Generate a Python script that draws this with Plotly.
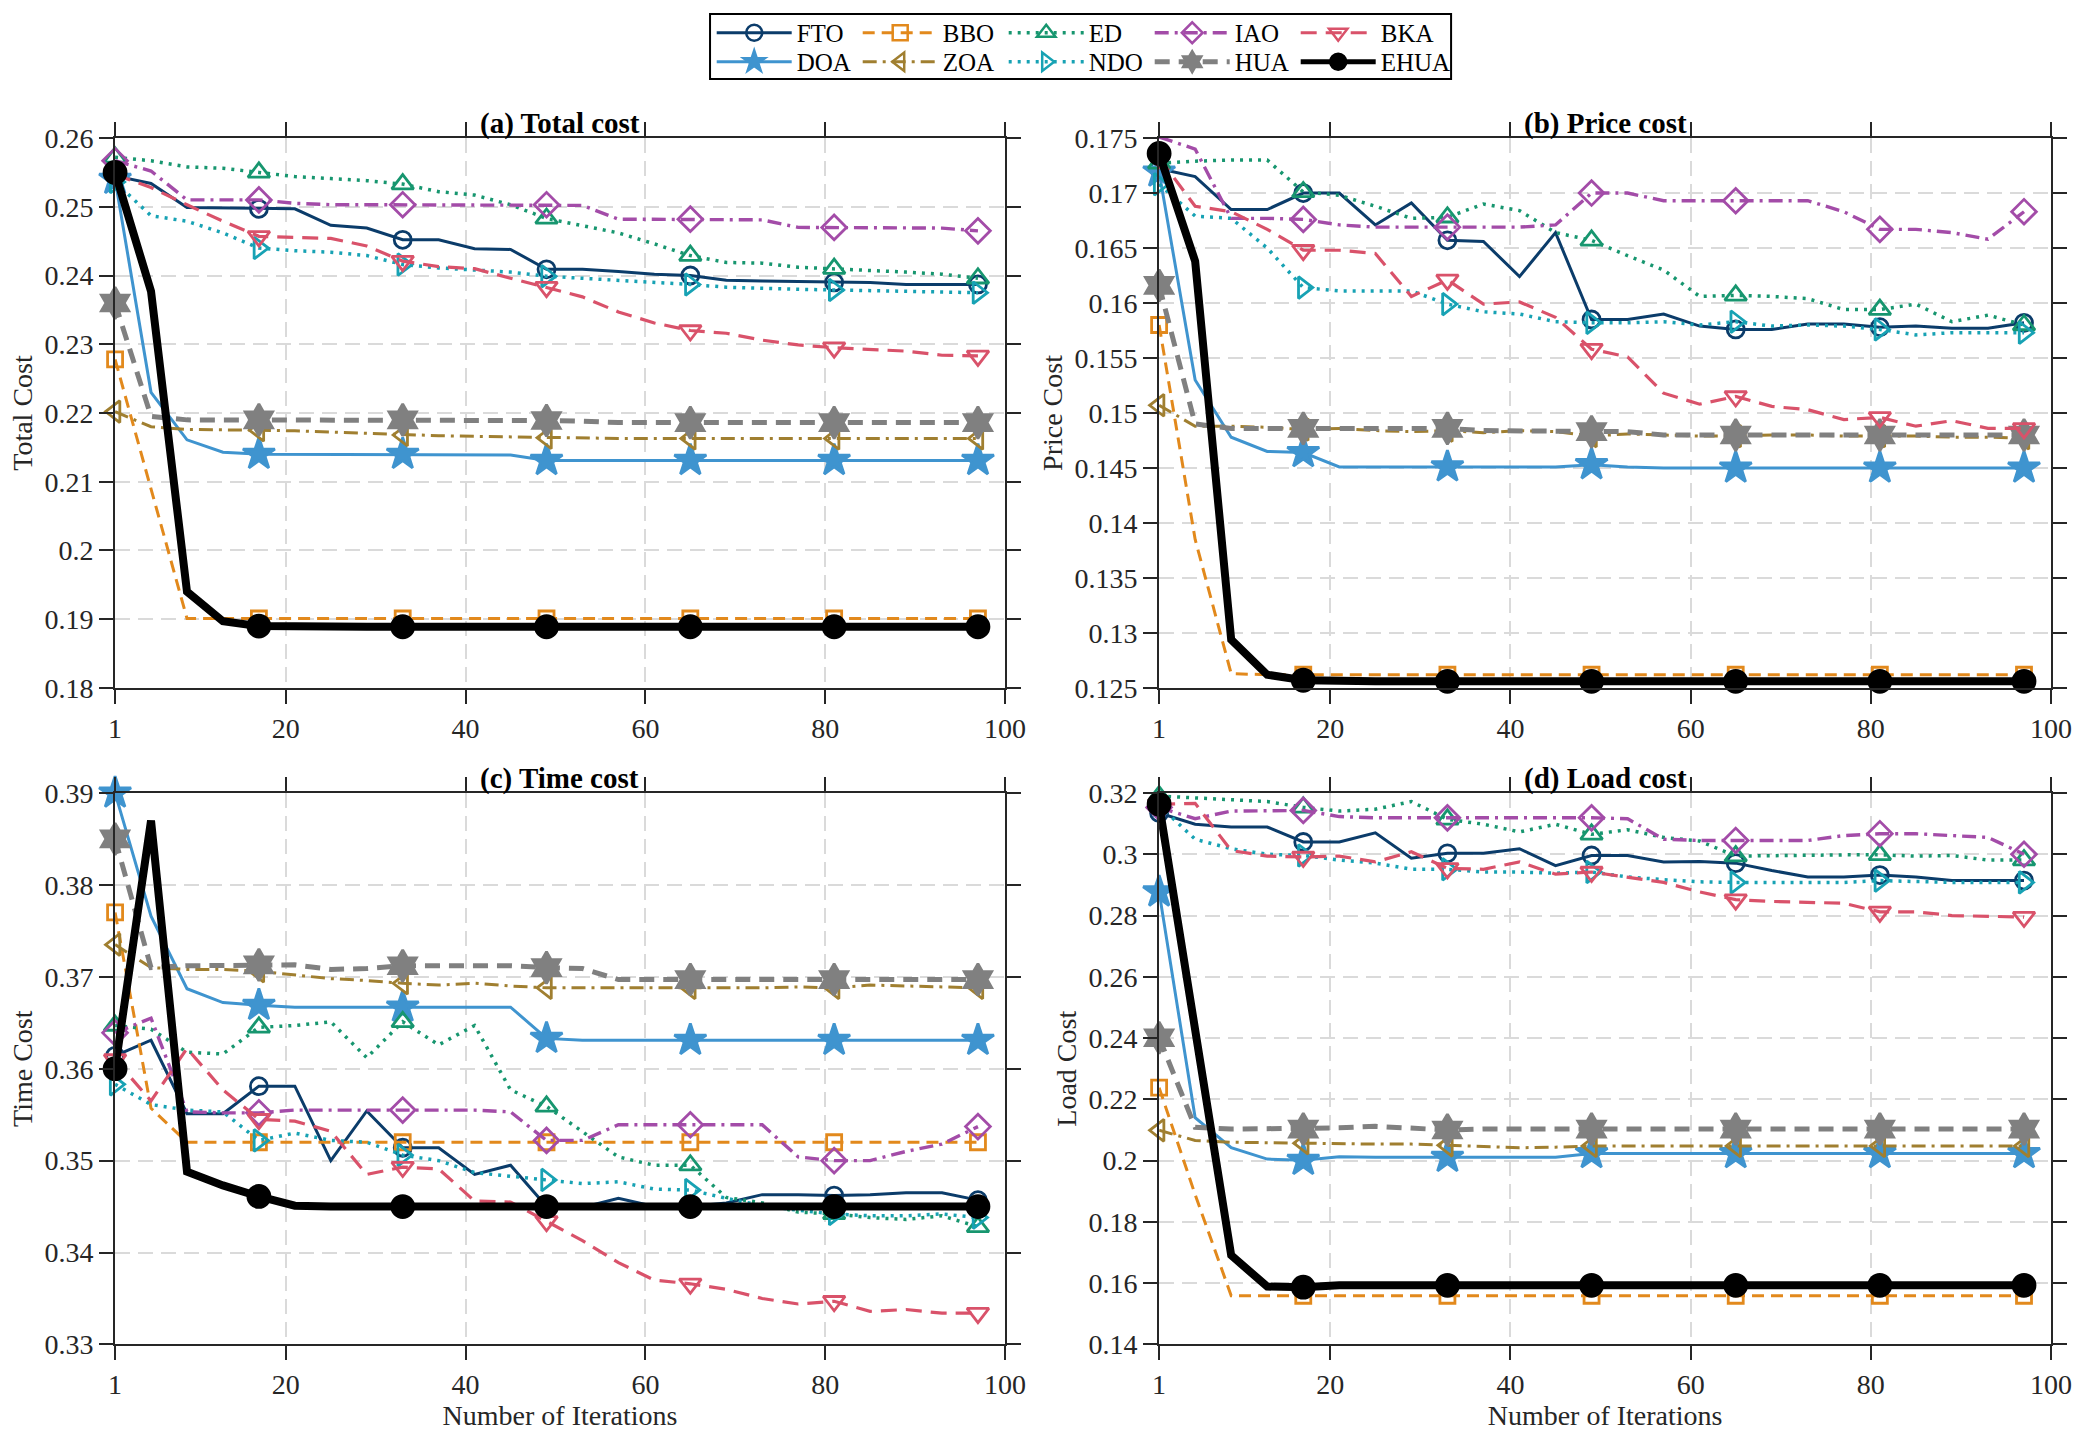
import plotly.graph_objects as go

# iterations where the curves were sampled (markers every 4th point)
iters = [1, 5, 9, 13, 17, 21, 25, 29, 33, 37, 41, 45, 49,
         53, 57, 61, 65, 69, 73, 77, 81, 85, 89, 93, 97]

algos = ["FTO", "DOA", "BBO", "ZOA", "ED", "NDO", "IAO", "HUA", "BKA", "EHUA"]

###################################
# (a) Total cost
fto_total = [0.2545, 0.2534, 0.2499, 0.2498, 0.2497, 0.2497, 0.2473, 0.2469, 0.2452, 0.2452, 0.2439, 0.2438, 0.2409,
             0.2409, 0.2406, 0.2402, 0.2400, 0.2393, 0.2392, 0.2391, 0.2390, 0.2390, 0.2387, 0.2387, 0.2387]
doa_total = [0.2540, 0.2230, 0.2161, 0.2143, 0.2140, 0.2140, 0.2140, 0.2140, 0.2140, 0.2140, 0.2139, 0.2139, 0.2131,
             0.2131, 0.2131, 0.2131, 0.2131, 0.2131, 0.2131, 0.2131, 0.2131, 0.2131, 0.2131, 0.2131, 0.2131]
bbo_total = [0.2278, 0.2090, 0.1901, 0.1901, 0.1901, 0.1901, 0.1901, 0.1901, 0.1901, 0.1901, 0.1901, 0.1901, 0.1901,
             0.1901, 0.1901, 0.1901, 0.1901, 0.1901, 0.1901, 0.1901, 0.1901, 0.1901, 0.1901, 0.1901, 0.1901]
zoa_total = [0.2202, 0.2180, 0.2176, 0.2176, 0.2175, 0.2174, 0.2172, 0.2170, 0.2168, 0.2167, 0.2166, 0.2165, 0.2164,
             0.2164, 0.2163, 0.2163, 0.2163, 0.2163, 0.2163, 0.2163, 0.2163, 0.2163, 0.2163, 0.2163, 0.2163]
ed_total = [0.2572, 0.2567, 0.2558, 0.2556, 0.2550, 0.2544, 0.2541, 0.2538, 0.2533, 0.2522, 0.2517, 0.2503, 0.2483,
            0.2473, 0.2462, 0.2446, 0.2429, 0.2419, 0.2418, 0.2412, 0.2410, 0.2407, 0.2405, 0.2402, 0.2396]
ndo_total = [0.2536, 0.2487, 0.2479, 0.2462, 0.2440, 0.2436, 0.2434, 0.2429, 0.2416, 0.2411, 0.2408, 0.2405, 0.2399,
             0.2396, 0.2393, 0.2391, 0.2387, 0.2383, 0.2381, 0.2380, 0.2379, 0.2378, 0.2377, 0.2377, 0.2375]
iao_total = [0.2567, 0.2552, 0.2510, 0.2510, 0.2510, 0.2505, 0.2503, 0.2503, 0.2503, 0.2503, 0.2503, 0.2503, 0.2503,
             0.2502, 0.2482, 0.2482, 0.2482, 0.2482, 0.2481, 0.2470, 0.2470, 0.2470, 0.2469, 0.2469, 0.2465]
hua_total = [0.2360, 0.2195, 0.2190, 0.2190, 0.2190, 0.2190, 0.2190, 0.2190, 0.2190, 0.2189, 0.2189, 0.2189, 0.2189,
             0.2188, 0.2186, 0.2186, 0.2186, 0.2186, 0.2186, 0.2186, 0.2186, 0.2186, 0.2186, 0.2186, 0.2186]
bka_total = [0.2547, 0.2528, 0.2503, 0.2479, 0.2457, 0.2456, 0.2454, 0.2443, 0.2421, 0.2413, 0.2410, 0.2396, 0.2383,
             0.2369, 0.2347, 0.2331, 0.2320, 0.2316, 0.2306, 0.2299, 0.2295, 0.2292, 0.2290, 0.2284, 0.2283]
ehua_total = [0.2550, 0.2377, 0.1940, 0.1897, 0.1890, 0.1889, 0.1889, 0.1889, 0.1889, 0.1889, 0.1889, 0.1889, 0.1889,
              0.1889, 0.1889, 0.1889, 0.1889, 0.1889, 0.1889, 0.1889, 0.1889, 0.1889, 0.1889, 0.1889, 0.1889]

###################################
# (b) Price cost
fto_price = [0.1722, 0.1715, 0.1685, 0.1685, 0.1700, 0.1700, 0.1671, 0.1691, 0.1657, 0.1656, 0.1624, 0.1664, 0.1585,
             0.1585, 0.1590, 0.1579, 0.1576, 0.1576, 0.1581, 0.1581, 0.1578, 0.1579, 0.1577, 0.1577, 0.1582]
doa_price = [0.1719, 0.1530, 0.1478, 0.1465, 0.1464, 0.1451, 0.1451, 0.1451, 0.1451, 0.1451, 0.1451, 0.1451, 0.1453,
             0.1451, 0.1450, 0.1450, 0.1450, 0.1450, 0.1450, 0.1450, 0.1450, 0.1450, 0.1450, 0.1450, 0.1450]
bbo_price = [0.1580, 0.1385, 0.1263, 0.1262, 0.1262, 0.1262, 0.1262, 0.1262, 0.1262, 0.1262, 0.1262, 0.1262, 0.1262,
             0.1262, 0.1262, 0.1262, 0.1262, 0.1262, 0.1262, 0.1262, 0.1262, 0.1262, 0.1262, 0.1262, 0.1262]
zoa_price = [0.1507, 0.1488, 0.1488, 0.1487, 0.1485, 0.1486, 0.1484, 0.1483, 0.1484, 0.1482, 0.1484, 0.1483, 0.1479,
             0.1481, 0.1480, 0.1479, 0.1479, 0.1480, 0.1480, 0.1479, 0.1479, 0.1479, 0.1478, 0.1478, 0.1477]
ed_price = [0.1727, 0.1729, 0.1730, 0.1730, 0.1701, 0.1698, 0.1688, 0.1677, 0.1678, 0.1690, 0.1684, 0.1664, 0.1657,
            0.1643, 0.1630, 0.1606, 0.1607, 0.1606, 0.1604, 0.1594, 0.1594, 0.1599, 0.1583, 0.1589, 0.1580]
ndo_price = [0.1708, 0.1679, 0.1677, 0.1650, 0.1614, 0.1611, 0.1611, 0.1611, 0.1599, 0.1592, 0.1590, 0.1583, 0.1582,
             0.1582, 0.1583, 0.1580, 0.1583, 0.1579, 0.1580, 0.1579, 0.1576, 0.1571, 0.1573, 0.1573, 0.1573]
iao_price = [0.1751, 0.1740, 0.1677, 0.1677, 0.1676, 0.1671, 0.1669, 0.1669, 0.1669, 0.1669, 0.1669, 0.1671, 0.1700,
             0.1700, 0.1693, 0.1693, 0.1693, 0.1693, 0.1693, 0.1683, 0.1667, 0.1667, 0.1664, 0.1658, 0.1683]
hua_price = [0.1616, 0.1490, 0.1486, 0.1486, 0.1486, 0.1486, 0.1486, 0.1486, 0.1486, 0.1484, 0.1484, 0.1484, 0.1483,
             0.1483, 0.1480, 0.1480, 0.1480, 0.1480, 0.1480, 0.1480, 0.1480, 0.1480, 0.1480, 0.1480, 0.1480]
bka_price = [0.1732, 0.1688, 0.1683, 0.1667, 0.1648, 0.1648, 0.1645, 0.1606, 0.1621, 0.1599, 0.1601, 0.1587, 0.1558,
             0.1551, 0.1518, 0.1508, 0.1515, 0.1506, 0.1503, 0.1494, 0.1496, 0.1488, 0.1493, 0.1486, 0.1486]
ehua_price = [0.1736, 0.1638, 0.1294, 0.1262, 0.1257, 0.1256, 0.1256, 0.1256, 0.1256, 0.1256, 0.1256, 0.1256, 0.1256,
              0.1256, 0.1256, 0.1256, 0.1256, 0.1256, 0.1256, 0.1256, 0.1256, 0.1256, 0.1256, 0.1256, 0.1256]

###################################
# (c) Time cost
fto_time = [0.3614, 0.3631, 0.3551, 0.3551, 0.3581, 0.3581, 0.3500, 0.3554, 0.3514, 0.3514, 0.3485, 0.3495, 0.3450,
            0.3449, 0.3459, 0.3450, 0.3450, 0.3454, 0.3463, 0.3463, 0.3462, 0.3463, 0.3465, 0.3465, 0.3457]
doa_time = [0.3900, 0.3766, 0.3687, 0.3672, 0.3669, 0.3667, 0.3667, 0.3667, 0.3667, 0.3667, 0.3667, 0.3667, 0.3633,
            0.3631, 0.3631, 0.3631, 0.3631, 0.3631, 0.3631, 0.3631, 0.3631, 0.3631, 0.3631, 0.3631, 0.3631]
bbo_time = [0.3770, 0.3557, 0.3520, 0.3520, 0.3520, 0.3520, 0.3520, 0.3520, 0.3520, 0.3520, 0.3520, 0.3520, 0.3520,
            0.3520, 0.3520, 0.3520, 0.3520, 0.3520, 0.3520, 0.3520, 0.3520, 0.3520, 0.3520, 0.3520, 0.3520]
zoa_time = [0.3735, 0.3710, 0.3708, 0.3708, 0.3706, 0.3702, 0.3698, 0.3696, 0.3693, 0.3691, 0.3693, 0.3690, 0.3688,
            0.3688, 0.3688, 0.3688, 0.3688, 0.3688, 0.3688, 0.3689, 0.3688, 0.3691, 0.3690, 0.3689, 0.3688]
ed_time = [0.3647, 0.3643, 0.3618, 0.3616, 0.3645, 0.3647, 0.3651, 0.3612, 0.3651, 0.3626, 0.3647, 0.3577, 0.3559,
           0.3532, 0.3504, 0.3495, 0.3495, 0.3460, 0.3454, 0.3444, 0.3442, 0.3438, 0.3436, 0.3440, 0.3428]
ndo_time = [0.3583, 0.3561, 0.3555, 0.3553, 0.3522, 0.3530, 0.3522, 0.3520, 0.3506, 0.3500, 0.3487, 0.3483, 0.3479,
            0.3475, 0.3477, 0.3469, 0.3468, 0.3459, 0.3451, 0.3446, 0.3442, 0.3440, 0.3440, 0.3442, 0.3438]
iao_time = [0.3639, 0.3655, 0.3553, 0.3552, 0.3552, 0.3555, 0.3555, 0.3555, 0.3555, 0.3555, 0.3555, 0.3553, 0.3522,
            0.3522, 0.3539, 0.3539, 0.3539, 0.3539, 0.3539, 0.3504, 0.3500, 0.3500, 0.3510, 0.3518, 0.3537]
hua_time = [0.3850, 0.3710, 0.3712, 0.3712, 0.3713, 0.3713, 0.3708, 0.3709, 0.3712, 0.3712, 0.3712, 0.3712, 0.3710,
            0.3709, 0.3697, 0.3697, 0.3697, 0.3697, 0.3697, 0.3697, 0.3697, 0.3697, 0.3697, 0.3697, 0.3697]
bka_time = [0.3610, 0.3565, 0.3622, 0.3577, 0.3545, 0.3543, 0.3532, 0.3485, 0.3493, 0.3491, 0.3456, 0.3455, 0.3434,
            0.3413, 0.3389, 0.3370, 0.3366, 0.3360, 0.3350, 0.3344, 0.3347, 0.3336, 0.3338, 0.3334, 0.3334]
ehua_time = [0.3600, 0.3870, 0.3488, 0.3473, 0.3461, 0.3451, 0.3450, 0.3450, 0.3450, 0.3450, 0.3450, 0.3450, 0.3450,
             0.3450, 0.3450, 0.3450, 0.3450, 0.3450, 0.3450, 0.3450, 0.3450, 0.3450, 0.3450, 0.3450, 0.3450]

###################################
# (d) Load cost
fto_load = [0.3135, 0.3098, 0.3089, 0.3089, 0.3040, 0.3040, 0.3070, 0.2987, 0.3003, 0.3003, 0.3018, 0.2963, 0.2996,
            0.2996, 0.2975, 0.2976, 0.2971, 0.2947, 0.2926, 0.2926, 0.2932, 0.2926, 0.2914, 0.2914, 0.2914]
doa_load = [0.2877, 0.2140, 0.2042, 0.2005, 0.2001, 0.2013, 0.2011, 0.2011, 0.2011, 0.2011, 0.2011, 0.2011, 0.2023,
            0.2023, 0.2023, 0.2023, 0.2023, 0.2023, 0.2023, 0.2023, 0.2023, 0.2023, 0.2023, 0.2023, 0.2023]
bbo_load = [0.2238, 0.1889, 0.1559, 0.1559, 0.1559, 0.1559, 0.1559, 0.1559, 0.1559, 0.1559, 0.1559, 0.1559, 0.1559,
            0.1559, 0.1559, 0.1559, 0.1559, 0.1559, 0.1559, 0.1559, 0.1559, 0.1559, 0.1559, 0.1559, 0.1559]
zoa_load = [0.2099, 0.2066, 0.2060, 0.2058, 0.2057, 0.2054, 0.2054, 0.2054, 0.2050, 0.2048, 0.2042, 0.2044, 0.2048,
            0.2048, 0.2048, 0.2048, 0.2048, 0.2048, 0.2048, 0.2048, 0.2048, 0.2047, 0.2047, 0.2046, 0.2048]
ed_load = [0.3190, 0.3184, 0.3178, 0.3172, 0.3153, 0.3141, 0.3147, 0.3172, 0.3114, 0.3098, 0.3073, 0.3098, 0.3065,
           0.3080, 0.3055, 0.3043, 0.2994, 0.2996, 0.2998, 0.2998, 0.2998, 0.2994, 0.2996, 0.2981, 0.2981]
ndo_load = [0.3159, 0.3049, 0.3018, 0.3000, 0.2996, 0.2981, 0.2971, 0.2951, 0.2951, 0.2942, 0.2942, 0.2938, 0.2942,
            0.2926, 0.2917, 0.2910, 0.2908, 0.2908, 0.2908, 0.2908, 0.2914, 0.2910, 0.2908, 0.2908, 0.2908]
iao_load = [0.3153, 0.3116, 0.3141, 0.3143, 0.3143, 0.3123, 0.3119, 0.3119, 0.3119, 0.3119, 0.3119, 0.3119, 0.3119,
            0.3116, 0.3049, 0.3045, 0.3045, 0.3045, 0.3045, 0.3061, 0.3067, 0.3067, 0.3061, 0.3055, 0.3000]
hua_load = [0.2401, 0.2109, 0.2103, 0.2103, 0.2103, 0.2107, 0.2112, 0.2107, 0.2100, 0.2103, 0.2103, 0.2103, 0.2103,
            0.2103, 0.2103, 0.2103, 0.2103, 0.2103, 0.2103, 0.2103, 0.2103, 0.2103, 0.2103, 0.2103, 0.2103]
bka_load = [0.3163, 0.3166, 0.3012, 0.2994, 0.2991, 0.2994, 0.2975, 0.3008, 0.2954, 0.2951, 0.2975, 0.2935, 0.2942,
            0.2926, 0.2908, 0.2877, 0.2852, 0.2846, 0.2844, 0.2840, 0.2812, 0.2812, 0.2800, 0.2798, 0.2795]
ehua_load = [0.3163, 0.2410, 0.1691, 0.1589, 0.1587, 0.1593, 0.1593, 0.1593, 0.1593, 0.1593, 0.1593, 0.1593, 0.1593,
             0.1593, 0.1593, 0.1593, 0.1593, 0.1593, 0.1593, 0.1593, 0.1593, 0.1593, 0.1593, 0.1593, 0.1593]

# axis tick labels
x_ticks = [1, 20, 40, 60, 80, 100]

total_cost = dict(zip(algos, [fto_total, doa_total, bbo_total, zoa_total, ed_total,
                              ndo_total, iao_total, hua_total, bka_total, ehua_total]))
price_cost = dict(zip(algos, [fto_price, doa_price, bbo_price, zoa_price, ed_price,
                              ndo_price, iao_price, hua_price, bka_price, ehua_price]))
time_cost = dict(zip(algos, [fto_time, doa_time, bbo_time, zoa_time, ed_time,
                             ndo_time, iao_time, hua_time, bka_time, ehua_time]))
load_cost = dict(zip(algos, [fto_load, doa_load, bbo_load, zoa_load, ed_load,
                             ndo_load, iao_load, hua_load, bka_load, ehua_load]))

# line / marker look of every algorithm
style = {
    "FTO":  dict(color="#0b3c6a", dash="solid", symbol="circle-open", size=17, width=3),
    "DOA":  dict(color="#3f94cf", dash="solid", symbol="star", size=24, width=3),
    "BBO":  dict(color="#e2891c", dash="12px,7px", symbol="square-open", size=15, width=3),
    "ZOA":  dict(color="#a07f30", dash="14px,6px,3px,6px", symbol="triangle-left-open", size=19, width=3),
    "ED":   dict(color="#17966f", dash="3px,6px", symbol="triangle-up-open", size=19, width=3.5),
    "NDO":  dict(color="#17a2b4", dash="3px,6px", symbol="triangle-right-open", size=19, width=3.5),
    "IAO":  dict(color="#a34ca8", dash="14px,6px,3px,6px", symbol="diamond-open", size=19, width=3.4),
    "HUA":  dict(color="#808080", dash="15px,9px", symbol="hexagram", size=24, width=5),
    "BKA":  dict(color="#d9526a", dash="16px,9px", symbol="triangle-down-open", size=19, width=3.2),
    "EHUA": dict(color="#000000", dash="solid", symbol="circle", size=22, width=8),
}
legend_row1 = ["FTO", "BBO", "ED", "IAO", "BKA"]

FONT = "Liberation Serif, Times New Roman, serif"

# plot area boxes in paper units (x0, x1, y0, y1)
panels = [
    ("(a) Total cost", "Total Cost", total_cost, [0.18, 0.26], 0.01, (0.0553, 0.4829, 0.5226, 0.9042), False),
    ("(b) Price cost", "Price Cost", price_cost, [0.125, 0.175], 0.005, (0.5570, 0.9856, 0.5226, 0.9042), False),
    ("(c) Time cost", "Time Cost", time_cost, [0.33, 0.39], 0.01, (0.0553, 0.4829, 0.0670, 0.4497), True),
    ("(d) Load cost", "Load Cost", load_cost, [0.14, 0.32], 0.02, (0.5570, 0.9856, 0.0670, 0.4497), True),
]

fig = go.Figure()
layout = {}
annotations = []

for k, (title, ytitle, data, yrange, dtick, box, bottom) in enumerate(panels):
    n = "" if k == 0 else str(k + 1)
    xa, ya = "x" + n, "y" + n
    for name in algos:
        s = style[name]
        fig.add_trace(go.Scatter(
            x=iters, y=data[name], mode="lines", xaxis=xa, yaxis=ya,
            line=dict(color=s["color"], dash=s["dash"], width=s["width"]),
            showlegend=False, hoverinfo="skip"))
        fig.add_trace(go.Scatter(
            x=iters[::4], y=data[name][::4], mode="markers", xaxis=xa, yaxis=ya,
            marker=dict(symbol=s["symbol"], size=s["size"], color=s["color"],
                        line=dict(color=s["color"], width=2.8)),
            showlegend=False, cliponaxis=False, name=name))

    axis_common = dict(showline=True, linecolor="#262626", linewidth=2, mirror="ticks",
                       ticks="outside", ticklen=14, tickwidth=2, tickcolor="#262626",
                       showgrid=True, gridcolor="#dadada", gridwidth=1.5, griddash="15px,8px",
                       zeroline=False, automargin=False,
                       tickfont=dict(family=FONT, size=28, color="#262626"))
    layout["xaxis" + n] = dict(axis_common, domain=[box[0], box[1]], anchor=ya, range=[1, 100],
                               tickmode="array", tickvals=x_ticks,
                               title=dict(text="Number of Iterations" if bottom else "",
                                          font=dict(family=FONT, size=28, color="#262626"), standoff=6))
    layout["yaxis" + n] = dict(axis_common, domain=[box[2], box[3]], anchor=xa, range=yrange,
                               tick0=yrange[0], dtick=dtick,
                               title=dict(text=ytitle, font=dict(family=FONT, size=28, color="#262626"),
                                          standoff=4))
    annotations.append(dict(text="<b>" + title + "</b>", xref="paper", yref="paper",
                            x=(box[0] + box[1]) / 2, y=box[3], xanchor="center", yanchor="bottom",
                            yshift=-4, showarrow=False,
                            font=dict(family=FONT, size=29, color="#000000")))

# legend entries: two rows of five inside one box
for name in algos:
    s = style[name]
    fig.add_trace(go.Scatter(
        x=[None], y=[None], mode="lines+markers", name=name,
        legend="legend" if name in legend_row1 else "legend2",
        legendrank=(legend_row1.index(name) if name in legend_row1 else 10),
        legendwidth=(80 if name in ("BKA", "EHUA") else None),
        line=dict(color=s["color"], dash=s["dash"], width=min(s["width"], 5)),
        marker=dict(symbol=s["symbol"], size=min(s["size"], 16), color=s["color"],
                    line=dict(color=s["color"], width=2.5))))

legend_common = dict(orientation="h", xanchor="left", yanchor="middle", x=0.342,
                     font=dict(family=FONT, size=25, color="#000000"),
                     itemwidth=75, entrywidth=56, entrywidthmode="pixels",
                     bgcolor="rgba(0,0,0,0)", borderwidth=0, traceorder="normal")

fig.update_layout(
    width=2081, height=1441,
    margin=dict(l=0, r=0, t=0, b=0),
    paper_bgcolor="white", plot_bgcolor="white",
    font=dict(family=FONT, size=25, color="#262626"),
    annotations=annotations,
    legend=dict(legend_common, y=0.9771),
    legend2=dict(legend_common, y=0.9570),
    shapes=[dict(type="rect", xref="paper", yref="paper", x0=0.3412, x1=0.6973, y0=0.9452, y1=0.9903,
                 line=dict(color="#000000", width=2), fillcolor="rgba(0,0,0,0)")],
    **layout)

# no page margin, so the figure fills the window exactly
fig.write_html("out.html", config={"displayModeBar": False},
               post_script="document.body.style.margin='0px';")
